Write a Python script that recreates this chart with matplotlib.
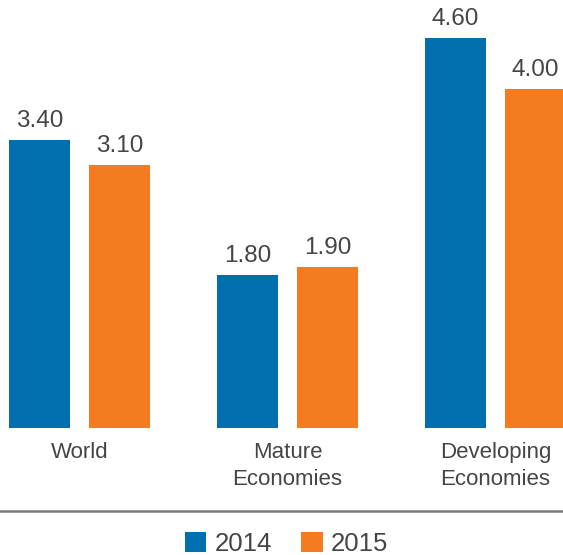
import matplotlib.pyplot as plt
from matplotlib.lines import Line2D
import numpy as np

plt.rcParams['font.family'] = ['Liberation Sans', 'DejaVu Sans']

categories = ['World', 'Mature\nEconomies', 'Developing\nEconomies']
years = ['2014', '2015']
values_2014 = [3.40, 1.80, 4.60]
values_2015 = [3.10, 1.90, 4.00]

blue = '#006FAE'
orange = '#F47B20'
text_col = '#454545'

W, H = 563, 555
fig = plt.figure(figsize=(W / 100, H / 100), dpi=100)
base = 428
ax = fig.add_axes([0, (H - base) / H, 1, base / H])

step = 208
x = np.arange(len(categories))
width = 61 / step
off = 40 / step
b1 = ax.bar(x - off, values_2014, width, color=blue, label=years[0])
b2 = ax.bar(x + off, values_2015, width, color=orange, label=years[1])

# value labels above bars
for bars in (b1, b2):
    for r in bars:
        ax.annotate(f'{r.get_height():.2f}', (r.get_x() + r.get_width() / 2, r.get_height()),
                    xytext=(0, 8), textcoords='offset pixels',
                    ha='center', va='bottom', fontsize=17.5, color=text_col)

ax.set_xlim((0 - 79.5) / step, (W - 79.5) / step)
ax.set_ylim(0, base / 84.8)
ax.axis('off')

for i, c in enumerate(categories):
    ax.text(x[i], -0.17, c, ha='center', va='top', fontsize=16, color=text_col,
            linespacing=1.38)

fig.add_artist(Line2D([0, 1], [(H - 511) / H] * 2, color='#7a7a7a', lw=1.8))

fig.legend(handles=[b1, b2], labels=years, loc='center', bbox_to_anchor=(0.509, (H - 544) / H),
           ncol=2, frameon=False, fontsize=18.5, handlelength=0.84, handleheight=0.84,
           handletextpad=0.32, columnspacing=1.15, labelcolor=text_col,
           borderpad=0, borderaxespad=0)

fig.savefig('out.png', dpi=100)
